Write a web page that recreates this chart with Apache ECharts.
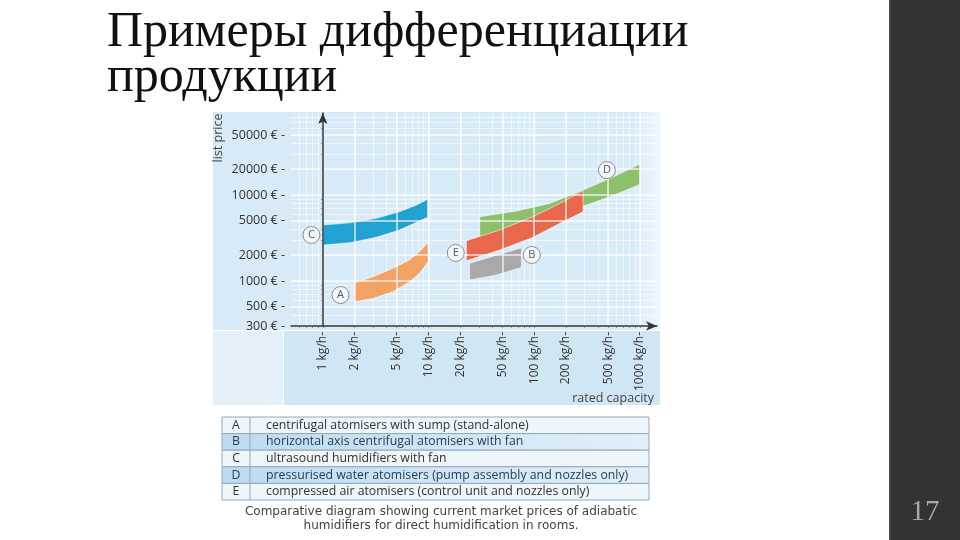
<!DOCTYPE html>
<html>
<head>
<meta charset="utf-8">
<script src="https://cdn.jsdelivr.net/npm/echarts@6/dist/echarts.min.js"></script>
<style>
  html, body { margin: 0; padding: 0; background: #fff; }
  #chart { width: 960px; height: 540px; }
</style>
</head>
<body>
<div id="chart"></div>
<script>
// axis ticks
var capTicks = [1, 2, 5, 10, 20, 50, 100, 200, 500, 1000];      // kg/h
var priceTicks = [300, 500, 1000, 2000, 5000, 10000, 20000, 50000]; // €

// price bands: capacity (kg/h), lower and upper list price (€)
var capA = [2, 3, 4.6, 6.6, 8.2, 9.9];
var loA  = [574, 629, 752, 981, 1229, 1675];
var hiA  = [955, 1122, 1405, 1755, 2190, 2790];

var capB = [24.5, 44, 75.7];
var loB  = [1030, 1175, 1440];
var hiB  = [1610, 2000, 2440];

var capC = [1, 1.8, 3.2, 5.3, 7.7, 9.8];
var loC  = [2620, 2790, 3220, 3920, 4820, 5510];
var hiC  = [4480, 4760, 5360, 6400, 7650, 8920];

var capD = [30.5, 68, 140, 290, 520, 1000];
var loD  = [3220, 3900, 4900, 7400, 9550, 13300];
var hiD  = [5600, 6520, 8000, 11440, 15600, 22900];

var capE = [22.8, 47, 97.5, 175, 290];
var loE  = [1720, 2290, 3220, 4690, 6390];
var hiE  = [2940, 3920, 5600, 8000, 11200];

// circled letters
var labelNames = ['A', 'B', 'C', 'D', 'E'];
var labelCap   = [1.47, 94.8, 0.78, 487, 18.1];
var labelPrice = [688, 2010, 3430, 19500, 2120];

var legendText = [
  'centrifugal atomisers with sump (stand-alone)',
  'horizontal axis centrifugal atomisers with fan',
  'ultrasound humidifiers with fan',
  'pressurised water atomisers (pump assembly and nozzles only)',
  'compressed air atomisers (control unit and nozzles only)'
];

var lg = Math.log10;
var xMin = lg(0.5), xMax = lg(1450);
var yMin = lg(300), yMax = lg(90000);

// minor log grid: 1..9 x 10^n
function minorVals(lo, hi) {
  var out = [];
  for (var d = -1; d <= 5; d++) {
    for (var m = 1; m <= 9; m++) {
      var v = lg(m * Math.pow(10, d));
      if (v > lo && v < hi) out.push(v);
    }
  }
  return out;
}

function band(name, caps, lo, hi, color) {
  return {
    type: 'custom',
    name: name,
    coordinateSystem: 'cartesian2d',
    xAxisIndex: 0,
    yAxisIndex: 0,
    z: 2,
    data: [[lg(caps[0]), lg(lo[0])]],
    renderItem: function (params, api) {
      var pts = [];
      for (var i = 0; i < caps.length; i++) pts.push(api.coord([lg(caps[i]), lg(hi[i])]));
      for (var j = caps.length - 1; j >= 0; j--) pts.push(api.coord([lg(caps[j]), lg(lo[j])]));
      return {
        type: 'polygon',
        shape: { points: pts },
        style: { fill: color, stroke: 'rgba(255,255,255,0.55)', lineWidth: 1 }
      };
    }
  };
}

var font = 'Open Sans';
var graphics = [];

// panel backgrounds
graphics.push({
  type: 'rect', z: -10, shape: { x: 213, y: 112, width: 447, height: 218 },
  style: { fill: new echarts.graphic.LinearGradient(0, 0, 1, 0, [
    { offset: 0, color: '#d8eaf7' }, { offset: 0.94, color: '#d8ebf8' }, { offset: 1, color: '#eef6fc' }]) }
});
graphics.push({ type: 'rect', z: -10, shape: { x: 284, y: 331, width: 376, height: 74 }, style: { fill: '#d0e6f5' } });
graphics.push({ type: 'rect', z: -10, shape: { x: 213, y: 331, width: 70, height: 74 }, style: { fill: '#e3eff9' } });

graphics.push({
  type: 'text', x: 218, y: 138, rotation: Math.PI / 2,
  style: { text: 'list price', fontFamily: font, fontSize: 12.5, fill: '#444', align: 'center', verticalAlign: 'middle' }
});
graphics.push({
  type: 'text', x: 654, y: 398,
  style: { text: 'rated capacity', fontFamily: font, fontSize: 12.5, fill: '#444', align: 'right', verticalAlign: 'middle' }
});

// legend table
var tx = 222, ty = 417, tw = 427, rh = 16.6;
for (var r = 0; r < 5; r++) {
  var odd = r % 2 === 1;
  graphics.push({
    type: 'rect', shape: { x: tx, y: ty + r * rh, width: tw, height: rh },
    style: {
      fill: odd ? new echarts.graphic.LinearGradient(0, 0, 1, 0, [
        { offset: 0, color: '#bcdaf1' }, { offset: 1, color: '#e2eff9' }]) : '#eef5fb',
      stroke: '#93a9ba', lineWidth: 1
    }
  });
  graphics.push({
    type: 'text', x: 236, y: ty + r * rh + rh / 2,
    style: { text: labelNames[r], fontFamily: font, fontSize: 12.3, fill: odd ? '#24405a' : '#333', align: 'center', verticalAlign: 'middle' }
  });
  graphics.push({
    type: 'text', x: 266, y: ty + r * rh + rh / 2,
    style: { text: legendText[r], fontFamily: font, fontSize: 12.3, fill: odd ? '#24405a' : '#333', align: 'left', verticalAlign: 'middle' }
  });
}
graphics.push({ type: 'line', shape: { x1: 250, y1: ty, x2: 250, y2: ty + 5 * rh }, style: { stroke: '#93a9ba', lineWidth: 1 } });

graphics.push({
  type: 'text', x: 441, y: 512,
  style: { text: 'Comparative diagram showing current market prices of adiabatic', fontFamily: 'DejaVu Sans', fontSize: 12, fill: '#444', align: 'center', verticalAlign: 'middle' }
});
graphics.push({
  type: 'text', x: 441, y: 526,
  style: { text: 'humidifiers for direct humidification in rooms.', fontFamily: 'DejaVu Sans', fontSize: 12, fill: '#444', align: 'center', verticalAlign: 'middle' }
});

// slide title and side bar
graphics.push({
  type: 'text', x: 107, y: 33,
  style: { text: 'Примеры дифференциации', fontFamily: 'Liberation Serif', fontSize: 50, fill: '#111', align: 'left', verticalAlign: 'middle' }
});
graphics.push({
  type: 'text', x: 107, y: 78,
  style: { text: 'продукции', fontFamily: 'Liberation Serif', fontSize: 50, fill: '#111', align: 'left', verticalAlign: 'middle' }
});
graphics.push({ type: 'rect', shape: { x: 889, y: 0, width: 71, height: 540 }, style: { fill: '#333333' } });
graphics.push({ type: 'rect', shape: { x: 889, y: 0, width: 2, height: 540 }, style: { fill: '#474747' } });
graphics.push({
  type: 'text', x: 925, y: 512,
  style: { text: '17', fontFamily: 'Liberation Serif', fontSize: 29, fill: '#a8a8a8', align: 'center', verticalAlign: 'middle' }
});

var chart = echarts.init(document.getElementById('chart'));
chart.setOption({
  animation: false,
  grid: { left: 291, top: 113, width: 366, height: 213 },
  graphic: { elements: graphics },
  xAxis: [{
    type: 'value', min: xMin, max: xMax, z: 3,
    axisLine: { show: true, lineStyle: { color: '#333', width: 1.5 }, symbol: ['none', 'arrow'], symbolSize: [7, 11] },
    axisTick: { show: false, customValues: capTicks.map(lg) },
    axisLabel: {
      customValues: capTicks.map(lg), rotate: 90, margin: 6,
      fontFamily: font, fontSize: 12, color: '#333',
      formatter: function (v) { return Math.round(Math.pow(10, v)) + ' kg/h-'; }
    },
    splitLine: { show: true, lineStyle: { color: 'rgba(255,255,255,0.8)', width: 1.5 } }
  }, {
    type: 'value', min: xMin, max: xMax, position: 'bottom', z: 1,
    axisLine: { show: false },
    axisTick: { show: true, inside: false, length: 2, customValues: minorVals(xMin, xMax), lineStyle: { color: '#8a9aa6' } },
    axisLabel: { show: false },
    splitLine: { show: true, lineStyle: { color: 'rgba(255,255,255,0.55)', width: 1 } }
  }],
  yAxis: [{
    type: 'value', min: yMin, max: yMax, z: 3,
    axisLine: { show: true, lineStyle: { color: '#333', width: 1.5 }, symbol: ['none', 'arrow'], symbolSize: [7, 11] },
    axisTick: { show: false, customValues: priceTicks.map(lg) },
    axisLabel: {
      customValues: priceTicks.map(lg), margin: 6,
      fontFamily: font, fontSize: 12.5, color: '#333',
      formatter: function (v) { return Math.round(Math.pow(10, v)) + ' € -'; }
    },
    splitLine: { show: true, lineStyle: { color: 'rgba(255,255,255,0.8)', width: 1.5 } }
  }, {
    type: 'value', min: yMin, max: yMax, position: 'left', z: 1,
    axisLine: { show: false },
    axisTick: { show: true, inside: false, length: 2, customValues: minorVals(yMin, yMax), lineStyle: { color: '#8a9aa6' } },
    axisLabel: { show: false },
    splitLine: { show: true, lineStyle: { color: 'rgba(255,255,255,0.55)', width: 1 } }
  }],
  series: [
    band('C', capC, loC, hiC, '#22a2d2'),
    band('A', capA, loA, hiA, '#f4a263'),
    band('D', capD, loD, hiD, '#8dc06c'),
    band('E', capE, loE, hiE, '#e9684c'),
    band('B', capB, loB, hiB, '#a9a9a9'),
    {
      type: 'scatter', z: 5,
      symbolSize: 17,
      itemStyle: { color: '#f6f9fb', borderColor: '#777', borderWidth: 1 },
      label: {
        show: true, position: 'inside', color: '#333', fontFamily: font, fontSize: 11,
        formatter: function (p) { return p.value[2]; }
      },
      data: labelNames.map(function (n, i) { return [lg(labelCap[i]), lg(labelPrice[i]), n]; })
    }
  ]
});
</script>
</body>
</html>
